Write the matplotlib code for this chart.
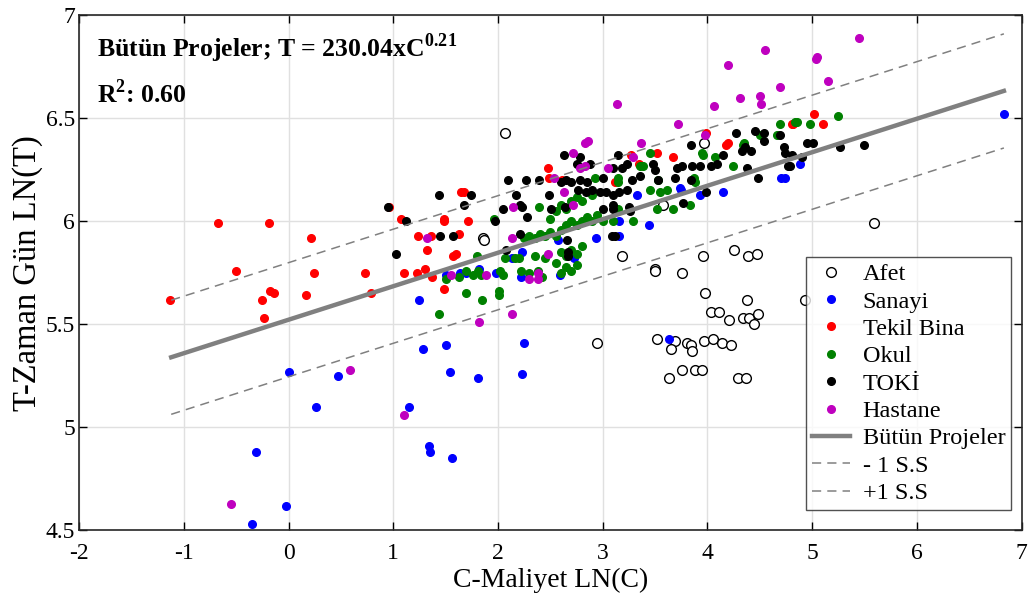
import numpy as np
import matplotlib.pyplot as plt

plt.rcParams['font.family'] = ['Liberation Serif', 'DejaVu Serif']
plt.rcParams['mathtext.fontset'] = 'custom'
plt.rcParams['mathtext.rm'] = 'Liberation Serif'
plt.rcParams['mathtext.bf'] = 'Liberation Serif:bold'

# --- data: ln(cost) vs ln(time) per project type ---
afet_x = [2.07, 3.97, 1.86, 1.87, 3.58, 3.18, 3.50, 3.50, 3.76, 3.96, 4.25, 4.39, 4.47, 3.98, 4.38,
          4.03, 4.11, 4.21, 4.34, 4.40, 4.44, 4.48, 2.95, 3.52, 3.69, 3.65, 3.80, 3.84, 3.85, 3.97,
          4.05, 4.14, 4.22, 3.63, 3.76, 3.88, 3.95, 4.29, 4.37, 5.59, 4.93]
afet_y = [6.43, 6.38, 5.92, 5.91, 6.08, 5.83, 5.77, 5.76, 5.75, 5.83, 5.86, 5.83, 5.84, 5.65, 5.62,
          5.56, 5.56, 5.52, 5.53, 5.53, 5.50, 5.55, 5.41, 5.43, 5.42, 5.38, 5.41, 5.40, 5.37, 5.42,
          5.43, 5.41, 5.40, 5.24, 5.28, 5.28, 5.28, 5.24, 5.24, 5.99, 5.62]

sanayi_x = [0.00, 0.26, -0.31, -0.02, -0.35, 0.47, 1.54, 1.81, 2.23, 1.15, 1.34, 1.35, 1.56, 1.25,
            1.28, 1.50, 2.25, 2.59, 1.82, 1.50, 1.64, 1.69, 1.98, 2.22, 2.13, 2.23, 2.57, 3.33,
            3.75, 3.93, 4.15, 3.16, 3.44, 2.94, 3.16, 3.63, 2.73, 4.70, 4.74, 3.74, 6.83, 4.88]
sanayi_y = [5.27, 5.10, 4.88, 4.62, 4.53, 5.25, 5.27, 5.24, 5.26, 5.10, 4.91, 4.88, 4.85, 5.62,
            5.38, 5.40, 5.41, 5.74, 5.77, 5.74, 5.75, 5.75, 5.75, 5.73, 5.82, 5.85, 5.91, 6.13,
            6.15, 6.13, 6.14, 6.00, 5.98, 5.92, 5.93, 5.43, 5.82, 6.21, 6.21, 6.16, 6.52, 6.28]

tekil_x = [-1.13, -0.67, -0.19, 0.21, -0.50, 0.24, -0.18, -0.14, -0.25, -0.23, 0.17, 0.73, 0.79,
           0.96, 1.07, 1.10, 1.23, 1.30, 1.24, 1.36, 1.32, 1.48, 1.48, 1.57, 1.60, 1.63, 1.71,
           1.65, 1.68, 1.37, 1.48, 2.61, 3.12, 3.27, 3.52, 3.67, 3.35, 3.99, 4.18, 4.20, 4.81,
           5.02, 4.82, 5.10, 2.48, 2.49]
tekil_y = [5.62, 5.99, 5.99, 5.92, 5.76, 5.75, 5.66, 5.65, 5.62, 5.53, 5.64, 5.75, 5.65,
           6.07, 6.01, 5.75, 5.75, 5.77, 5.93, 5.93, 5.86, 6.00, 6.01, 5.83, 5.84, 5.94, 6.00,
           6.14, 6.14, 5.73, 5.67, 6.20, 6.19, 6.32, 6.33, 6.31, 6.28, 6.43, 6.37, 6.38, 6.47,
           6.52, 6.47, 6.47, 6.26, 6.21]

okul_x = [1.80, 1.96, 1.50, 1.63, 1.69, 1.76, 1.81, 1.84, 2.02, 2.05, 1.44, 1.69, 1.85, 2.01, 2.01,
          2.07, 2.16, 2.20, 2.22, 2.30, 2.38, 2.42, 2.39,
          2.25, 2.30, 2.35, 2.40, 2.45, 2.50, 2.55, 2.60, 2.65, 2.70, 2.75, 2.80, 2.85, 2.90, 2.95,
          3.00, 3.10, 3.29, 2.50, 2.55, 2.60, 2.65, 2.70, 2.75, 2.80, 2.90, 2.60, 2.65, 2.70, 2.75,
          2.80, 2.55, 2.45, 2.35, 2.65, 2.70, 2.75, 2.60, 3.15, 3.52, 3.55, 3.45, 3.67, 3.83, 3.61,
          3.45, 3.95, 3.96, 4.07, 4.24, 4.34, 4.35, 4.50, 4.66, 4.69, 4.84, 3.36, 3.38, 3.15, 3.15,
          2.93, 3.53, 3.87, 3.88, 4.85, 4.98, 5.25]
okul_y = [5.83, 6.01, 5.72, 5.73, 5.76, 5.74, 5.76, 5.74, 5.76, 5.74, 5.55, 5.65, 5.62, 5.66, 5.64,
          5.82, 5.82, 5.82, 5.76, 5.75, 5.76, 5.73, 6.07,
          5.92, 5.93, 5.92, 5.94, 5.93, 5.95, 5.93, 5.96, 5.98, 6.00, 5.98, 6.00, 6.02, 6.00, 6.03,
          6.00, 6.00, 6.00, 6.01, 6.05, 6.08, 6.06, 6.10, 6.12, 6.10, 6.13, 5.85, 5.83, 5.86, 5.84,
          5.88, 5.80, 5.82, 5.83, 5.78, 5.76, 5.79, 5.75, 6.06, 6.06, 6.14, 6.15, 6.06, 6.08, 6.15,
          6.33, 6.33, 6.32, 6.31, 6.27, 6.37, 6.38, 6.42, 6.42, 6.47, 6.48, 6.27, 6.27, 6.21, 6.19,
          6.21, 6.20, 6.21, 6.19, 6.48, 6.47, 6.51]

toki_x = [2.10, 2.27, 2.39, 2.63, 1.44, 1.74, 1.68, 0.95, 1.12, 1.45, 1.57, 1.03, 1.97, 2.05, 2.17,
          2.21, 2.23, 2.28, 2.21, 2.08, 2.49, 2.51,
          2.78, 2.75, 2.88, 3.15, 3.23, 3.18, 3.10, 3.36, 3.28, 3.00, 3.48, 3.50, 3.53, 3.71, 3.76,
          3.85, 3.84, 3.69, 3.84, 3.93, 4.03, 4.09, 4.15, 4.27, 4.33, 4.36, 4.42, 4.45, 4.54, 4.54,
          4.38, 4.48, 4.69, 4.73, 4.74, 4.77,
          2.60, 2.65, 2.70, 2.78, 2.85, 4.95, 5.01, 5.27, 5.49, 4.81, 4.90, 4.79,
          2.64, 2.76, 2.84, 2.90, 2.97, 3.03, 3.10, 3.16, 3.23, 3.00, 3.10, 3.10, 3.25, 3.26, 3.77,
          3.99, 3.09, 3.12, 2.66, 2.67, 2.67]
toki_y = [6.20, 6.20, 6.20, 6.32, 6.13, 6.13, 6.08, 6.07, 6.00, 5.93, 5.93, 5.84, 6.00, 6.06, 6.13,
          6.08, 6.07, 6.02, 5.94, 5.86, 6.13, 6.06,
          6.31, 6.28, 6.28, 6.32, 6.28, 6.26, 6.26, 6.22, 6.20, 6.21, 6.28, 6.25, 6.20, 6.26, 6.27,
          6.27, 6.37, 6.21, 6.20, 6.27, 6.27, 6.28, 6.32, 6.43, 6.34, 6.36, 6.34, 6.44, 6.43, 6.39,
          6.26, 6.21, 6.42, 6.36, 6.33, 6.27,
          6.19, 6.20, 6.19, 6.20, 6.19, 6.38, 6.38, 6.36, 6.37, 6.32, 6.31, 6.27,
          6.07, 6.15, 6.14, 6.15, 6.14, 6.14, 6.13, 6.14, 6.15, 6.06, 6.06, 6.08, 6.07, 6.05, 6.09,
          6.14, 5.93, 5.93, 5.91, 5.85, 5.83]

hastane_x = [3.14, 4.55, 4.20, 4.69, 4.31, 4.50, 4.51, 4.06, 3.72, 3.98, 3.37, 2.83, 2.86, 2.72,
             2.78, 2.83, 3.05, 3.29, 5.45, 5.04, 5.05, 5.15, 2.53, 1.32, 2.13, 2.14, 2.48, 2.63,
             1.55, 1.89, 2.30, 2.38, 2.38, 1.82, 2.13, 2.72, 0.59, 1.10, -0.55]
hastane_y = [6.57, 6.83, 6.76, 6.65, 6.60, 6.61, 6.57, 6.56, 6.47, 6.42, 6.38, 6.38, 6.39, 6.33,
             6.26, 6.27, 6.26, 6.31, 6.89, 6.79, 6.80, 6.68, 6.21, 5.92, 5.92, 6.07, 5.84, 6.14,
             5.74, 5.74, 5.72, 5.72, 5.75, 5.51, 5.55, 6.08, 5.28, 5.06, 4.63]

# fitted line (all projects) and +-1 standard deviation band
fit_x = [-1.12, 6.83]
fit_y = [5.34, 6.633]
sd = 0.277

fig = plt.figure(figsize=(10.29, 5.98), dpi=100)
ax = fig.add_axes([0.0768, 0.1132, 0.9161, 0.8612])

ax.plot(afet_x, afet_y, 'o', mfc='white', mec='black', mew=1.0, ms=7, label='Afet')
ax.plot(sanayi_x, sanayi_y, 'o', color='#0000ff', ms=5.5, label='Sanayi')
ax.plot(tekil_x, tekil_y, 'o', color='#ff0000', ms=5.5, label='Tekil Bina')
ax.plot(okul_x, okul_y, 'o', color='#008000', ms=5.5, label='Okul')
ax.plot(toki_x, toki_y, 'o', color='black', ms=5.5, label='TOKİ')
ax.plot(hastane_x, hastane_y, 'o', color='#bf00bf', ms=5.5, label='Hastane')

ax.plot(fit_x, fit_y, color='#808080', lw=3.2, label='Bütün Projeler')
ax.plot(fit_x, np.array(fit_y) - sd, '--', color='#808080', lw=1.1, dashes=(6, 4), label='- 1 S.S')
ax.plot(fit_x, np.array(fit_y) + sd, '--', color='#808080', lw=1.1, dashes=(6, 4), label='+1 S.S')

ax.set_xlim(-2, 7)
ax.set_ylim(4.5, 7)
ax.set_xticks(range(-2, 8))
ax.set_yticks([4.5, 5, 5.5, 6, 6.5, 7])
ax.set_xticklabels(['-2', '-1', '0', '1', '2', '3', '4', '5', '6', '7'])
ax.set_yticklabels(['4.5', '5', '5.5', '6', '6.5', '7'])
ax.tick_params(direction='in', top=True, right=True, labelsize=17, length=6, width=1)
ax.tick_params(axis='x', pad=9)
ax.tick_params(axis='y', pad=3)
ax.grid(True, color='#e0e0e0', lw=1)
ax.set_axisbelow(True)
for s in ax.spines.values():
    s.set_linewidth(1.2)
    s.set_color('#262626')

ax.set_xlabel('C-Maliyet LN(C)', fontsize=20, labelpad=3)
ax.set_ylabel('T-Zaman Gün LN(T)', fontsize=23.5, labelpad=2)

ax.text(0.019, 0.919, r'Bütün Projeler; T = 230.04xC$^{\mathbf{0.21}}$', transform=ax.transAxes,
        fontsize=18.5, fontweight='bold')
ax.text(0.019, 0.83, r'R$^{\mathbf{2}}$: 0.60', transform=ax.transAxes, fontsize=18.5,
        fontweight='bold')

leg = ax.legend(loc='lower right', bbox_to_anchor=(0.989, 0.039), fontsize=17.5, frameon=True,
                fancybox=False, edgecolor='#262626', handlelength=1.6, labelspacing=0.22,
                borderpad=0.25, handletextpad=0.5, borderaxespad=0)
leg.get_frame().set_linewidth(1.0)

plt.savefig('out.png', dpi=100)
